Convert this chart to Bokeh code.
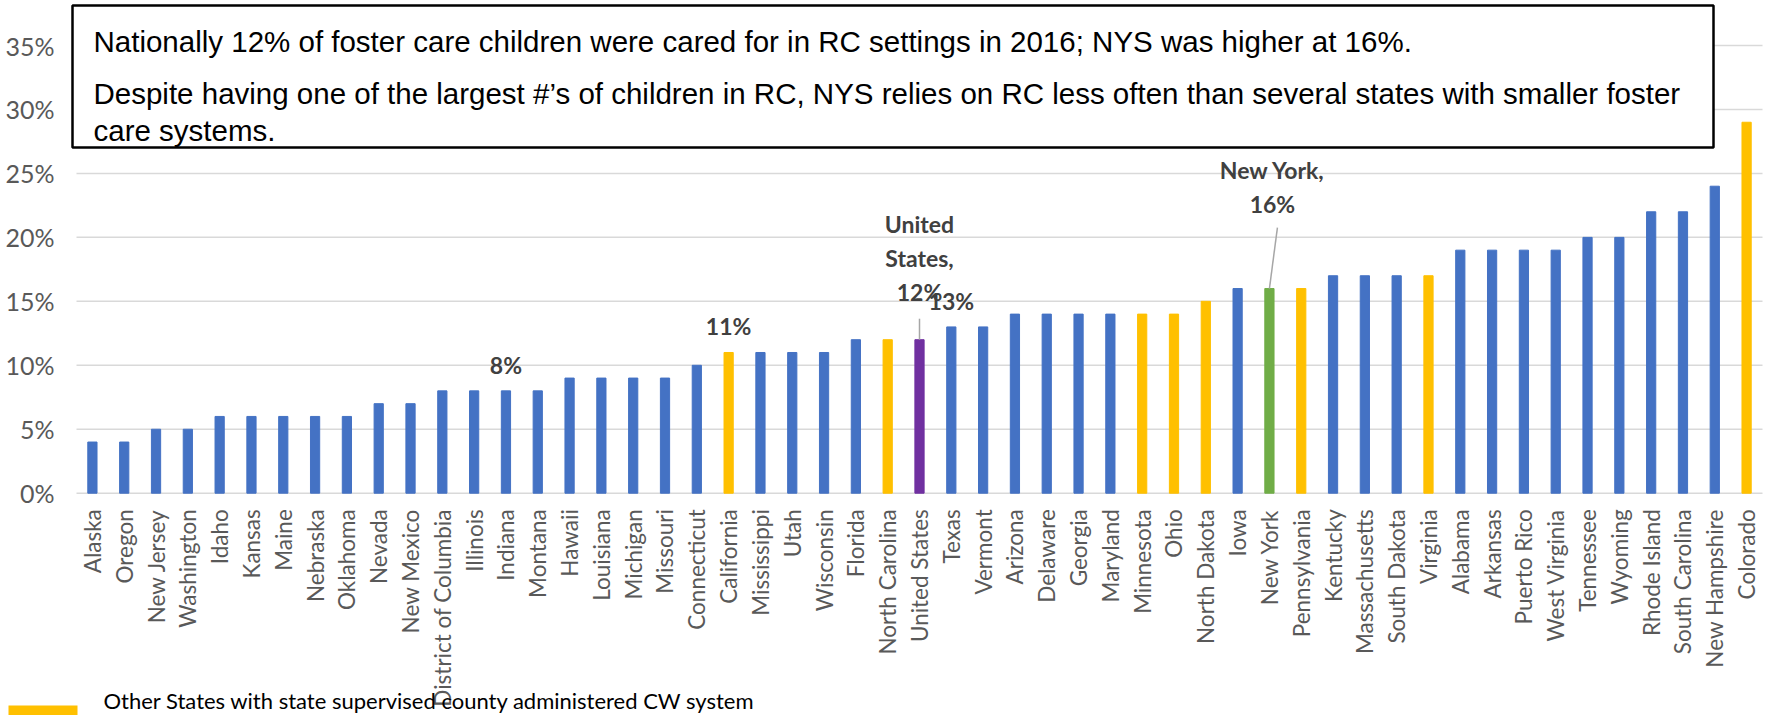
import math
from bokeh.plotting import figure
from bokeh.models import (ColumnDataSource, Range1d, BoxAnnotation, Label, FixedTicker,
                          LinearAxis)
from bokeh.embed import file_html
from bokeh.resources import INLINE
from bokeh.core.properties import value

# ---------------- data ----------------
states = ["Alaska", "Oregon", "New Jersey", "Washington", "Idaho", "Kansas", "Maine",
          "Nebraska", "Oklahoma", "Nevada", "New Mexico", "District of Columbia", "Illinois",
          "Indiana", "Montana", "Hawaii", "Louisiana", "Michigan", "Missouri", "Connecticut",
          "California", "Mississippi", "Utah", "Wisconsin", "Florida", "North Carolina",
          "United States", "Texas", "Vermont", "Arizona", "Delaware", "Georgia", "Maryland",
          "Minnesota", "Ohio", "North Dakota", "Iowa", "New York", "Pennsylvania", "Kentucky",
          "Massachusetts", "South Dakota", "Virginia", "Alabama", "Arkansas", "Puerto Rico",
          "West Virginia", "Tennessee", "Wyoming", "Rhode Island", "South Carolina",
          "New Hampshire", "Colorado"]
pct = [0.04, 0.04, 0.05, 0.05, 0.06, 0.06, 0.06,
       0.06, 0.06, 0.07, 0.07, 0.08, 0.08,
       0.08, 0.08, 0.09, 0.09, 0.09, 0.09, 0.10,
       0.11, 0.11, 0.11, 0.11, 0.12, 0.12,
       0.12, 0.13, 0.13, 0.14, 0.14, 0.14, 0.14,
       0.14, 0.14, 0.15, 0.16, 0.16, 0.16, 0.17,
       0.17, 0.17, 0.17, 0.19, 0.19, 0.19,
       0.19, 0.20, 0.20, 0.22, 0.22,
       0.24, 0.29]
county_administered = ["California", "North Carolina", "Minnesota", "Ohio", "North Dakota",
                       "Pennsylvania", "Virginia", "Colorado"]
national = "United States"
focus_state = "New York"
plain_labels = ["Indiana", "California", "Texas"]
y_ticks = [0.0, 0.05, 0.10, 0.15, 0.20, 0.25, 0.30, 0.35]
y_tick_labels = ["0%", "5%", "10%", "15%", "20%", "25%", "30%", "35%"]
title_fragment = "2016 by State"
note_line1 = "Nationally 12% of foster care children were cared for in RC settings in 2016; NYS was higher at 16%."
note_line2 = "Despite having one of the largest #\u2019s of children in RC, NYS relies on RC less often than several states with smaller foster"
note_line3 = "care systems."
legend_text = "Other States with state supervised county administered CW system"

# ---------------- layout / styling ----------------
BLUE, YELLOW, PURPLE, GREEN = "#4472C4", "#FFC000", "#7030A0", "#70AD47"
GRID = "#D9D9D9"
AXIS_TXT = "#595959"
LBL_TXT = "#404040"

W, H = 1774, 715
PLOT_LEFT, PLOT_RIGHT = 76.0, 1762.0      # pixel extent of the category area
ZERO_Y = 492.7                             # pixel row of 0%
PX_PER_CAT = (PLOT_RIGHT - PLOT_LEFT) / len(states)
PX_PER_UNIT = (ZERO_Y - 45.0) / 0.35       # pixels per 1.0 (=100%)


def X(px):   # page pixel column -> data x
    return (px - PLOT_LEFT) / PX_PER_CAT


def Y(px):   # page pixel row -> data y
    return (ZERO_Y - px) / PX_PER_UNIT


def dy(px):
    return px / PX_PER_UNIT


def dx(px):
    return px / PX_PER_CAT


colors = []
for s in states:
    if s == national:
        colors.append(PURPLE)
    elif s == focus_state:
        colors.append(GREEN)
    elif s in county_administered:
        colors.append(YELLOW)
    else:
        colors.append(BLUE)

xpos = [i + 0.5 for i in range(len(states))]
src = ColumnDataSource(dict(x=xpos, state=states, pct=pct, color=colors))

p = figure(x_range=Range1d(X(0), X(W)), y_range=Range1d(Y(H), Y(0)),
           width=W, height=H, output_backend="svg", toolbar_location=None,
           x_axis_location=None, y_axis_location=None,
           min_border_left=0, min_border_right=0, min_border_top=0, min_border_bottom=0)
p.outline_line_color = None
p.background_fill_color = "white"
p.border_fill_color = "white"
p.xgrid.visible = False
p.ygrid.visible = False

# horizontal gridlines over the category area
p.segment(x0=[0] * len(y_ticks), x1=[len(states)] * len(y_ticks), y0=y_ticks, y1=y_ticks,
          line_color=GRID, line_width=1.5)

p.vbar(x="x", top="pct", width=0.29, color="color", source=src)

# axes drawn at fixed data locations
yax = LinearAxis(fixed_location=0, ticker=FixedTicker(ticks=y_ticks),
                 major_label_overrides={t: l for t, l in zip(y_ticks, y_tick_labels)})
yax.axis_line_color = None
yax.major_tick_line_color = None
yax.minor_tick_line_color = None
yax.major_label_standoff = 16
yax.major_label_text_font = "Lato"
yax.major_label_text_font_size = "25px"
yax.major_label_text_color = AXIS_TXT
p.add_layout(yax, "left")

xax = LinearAxis(fixed_location=0, ticker=FixedTicker(ticks=xpos),
                 major_label_overrides={x: s for x, s in zip(xpos, states)})
xax.axis_line_color = None
xax.major_tick_line_color = None
xax.minor_tick_line_color = None
xax.major_label_orientation = math.pi / 2
xax.major_label_standoff = 10
xax.major_label_text_font = "Lato"
xax.major_label_text_font_size = "22.5px"
xax.major_label_text_color = AXIS_TXT
p.add_layout(xax, "below")

# data labels
lx, ly, lt = [], [], []
for s in plain_labels:
    i = states.index(s)
    lx.append(xpos[i]); ly.append(pct[i] + dy(26)); lt.append(f"{round(pct[i]*100)}%")
i_us = states.index(national)
v_us = pct[i_us]
for txt, off in zip(["United", "States,", f"{round(v_us*100)}%"], [116, 82, 48]):
    lx.append(xpos[i_us]); ly.append(v_us + dy(off)); lt.append(txt)
i_ny = states.index(focus_state)
v_ny = pct[i_ny]
for txt, off in zip(["New York,", f"{round(v_ny*100)}%"], [119, 85]):
    lx.append(xpos[i_ny] + dx(3)); ly.append(v_ny + dy(off)); lt.append(txt)
lsrc = ColumnDataSource(dict(x=lx, y=ly, text=lt))
p.text(x="x", y="y", text="text", source=lsrc, text_font=value("Lato"),
       text_font_style="bold", text_font_size="23px", text_color=LBL_TXT,
       text_align="center", text_baseline="middle")

# leader lines
p.segment(x0=[xpos[i_us], xpos[i_ny]], y0=[v_us, v_ny],
          x1=[xpos[i_us], xpos[i_ny] + dx(8)], y1=[v_us + dy(21), v_ny + dy(61)],
          line_color="#A6A6A6", line_width=1.5)

# chart title (mostly hidden behind the note box, as in the original slide)
p.add_layout(Label(x=X(932), y=Y(1), text=title_fragment, text_font="Lato",
                   text_font_style="bold", text_font_size="24px", text_color=AXIS_TXT,
                   text_align="center", text_baseline="top", level="overlay"))

# annotation box
p.add_layout(BoxAnnotation(left=X(72), right=X(1713), top=Y(5), bottom=Y(147),
                           fill_color="white", fill_alpha=1.0, line_color="black",
                           line_alpha=1.0, line_width=2.5, level="overlay"))
for txt, base in zip([note_line1, note_line2, note_line3], [41, 93, 130]):
    p.add_layout(Label(x=X(93), y=Y(base), text=txt,
                       text_font="Liberation Sans", text_font_size="29.5px",
                       text_color="black", text_baseline="alphabetic", level="overlay"))

# legend
p.add_layout(BoxAnnotation(left=X(8), right=X(77), top=Y(705), bottom=Y(716),
                           fill_color=YELLOW, fill_alpha=1.0, line_color=None,
                           level="overlay"))
p.add_layout(Label(x=X(103), y=Y(700), text=legend_text,
                   text_font="Lato", text_font_size="22px", text_color="black",
                   text_baseline="middle", level="overlay"))

open("out.html", "w").write(file_html(p, INLINE))
